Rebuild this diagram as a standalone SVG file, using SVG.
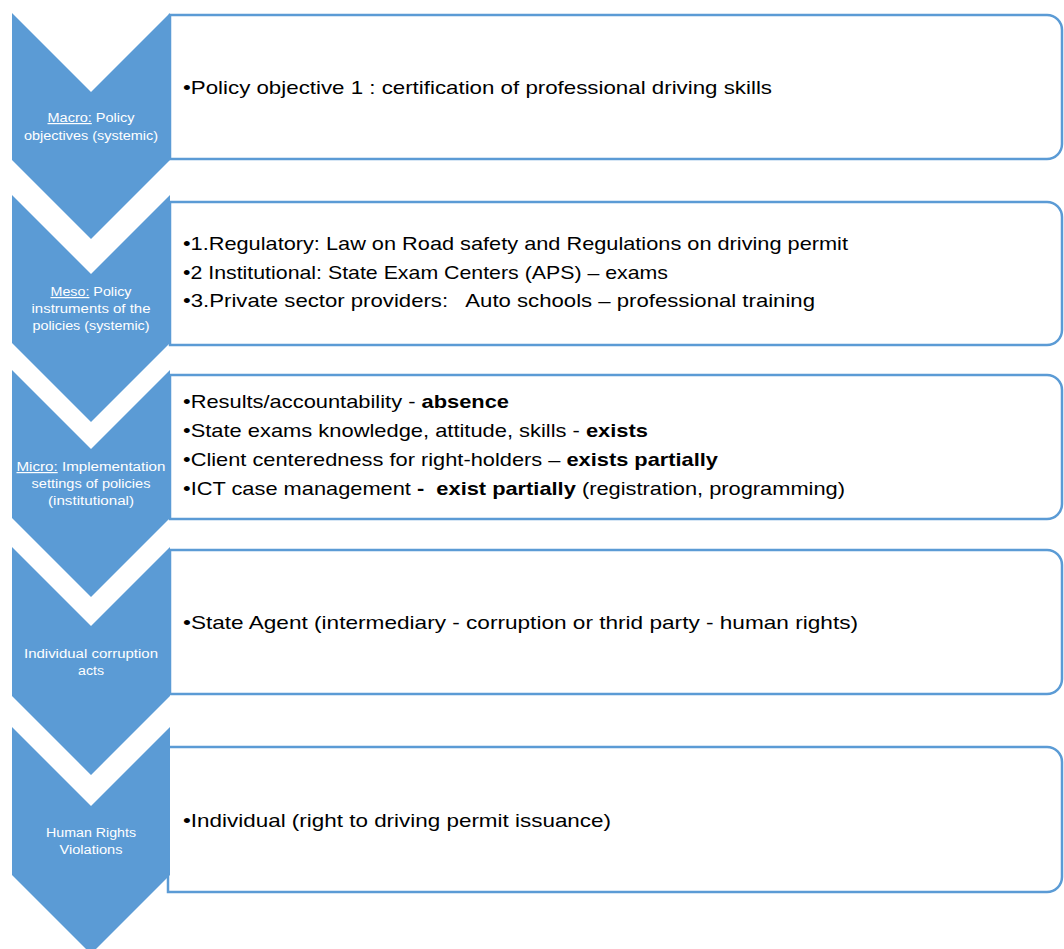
<svg xmlns="http://www.w3.org/2000/svg" width="1064" height="949" viewBox="0 0 1064 949">
<style>
.box{fill:#fff;stroke:#5B9BD5;stroke-width:2.5}
.chev{fill:#5B9BD5}
.ct{font-family:"Liberation Sans",Arial,sans-serif;font-size:12px;fill:#fff;text-anchor:middle}
.bt{font-family:"Liberation Sans",Arial,sans-serif;font-size:19px;fill:#000}
.b{font-weight:bold}
.u{text-decoration:underline}
</style>
<rect width="1064" height="949" fill="#fff"/>
<g id="boxes">
<g id="box1"><path class="box" d="M170,15 H1047 A15,15 0 0 1 1062,30 V144 A15,15 0 0 1 1047,159 H170 Z"/>
<text class="bt" x="183" y="94" textLength="589" lengthAdjust="spacingAndGlyphs">•Policy objective 1 : certification of professional driving skills</text></g>
<g id="box2"><path class="box" d="M170,202 H1047 A15,15 0 0 1 1062,217 V330 A15,15 0 0 1 1047,345 H170 Z"/>
<text class="bt" x="183" y="250" textLength="665" lengthAdjust="spacingAndGlyphs">•1.Regulatory: Law on Road safety and Regulations on driving permit</text>
<text class="bt" x="183" y="279" textLength="485" lengthAdjust="spacingAndGlyphs">•2 Institutional: State Exam Centers (APS) – exams</text>
<text class="bt" x="183" y="307" textLength="632" lengthAdjust="spacingAndGlyphs" xml:space="preserve">•3.Private sector providers:   Auto schools – professional training</text></g>
<g id="box3"><path class="box" d="M170,375 H1047 A15,15 0 0 1 1062,390 V504 A15,15 0 0 1 1047,519 H170 Z"/>
<text class="bt" x="183" y="408" textLength="326" lengthAdjust="spacingAndGlyphs">•Results/accountability - <tspan class="b">absence</tspan></text>
<text class="bt" x="183" y="437" textLength="465" lengthAdjust="spacingAndGlyphs">•State exams knowledge, attitude, skills - <tspan class="b">exists</tspan></text>
<text class="bt" x="183" y="466" textLength="535" lengthAdjust="spacingAndGlyphs">•Client centeredness for right-holders – <tspan class="b">exists partially</tspan></text>
<text class="bt" x="183" y="495" textLength="662" lengthAdjust="spacingAndGlyphs" xml:space="preserve">•ICT case management <tspan class="b">-  exist partially</tspan> (registration, programming)</text></g>
<g id="box4"><path class="box" d="M170,550 H1047 A15,15 0 0 1 1062,565 V679 A15,15 0 0 1 1047,694 H170 Z"/>
<text class="bt" x="183" y="629" textLength="675" lengthAdjust="spacingAndGlyphs">•State Agent (intermediary - corruption or thrid party - human rights)</text></g>
<g id="box5"><path class="box" d="M168,747 H1047 A15,15 0 0 1 1062,762 V877 A15,15 0 0 1 1047,892 H168 Z"/>
<text class="bt" x="183" y="827" textLength="428" lengthAdjust="spacingAndGlyphs">•Individual (right to driving permit issuance)</text></g>
</g>
<g id="chevrons">
<g id="chev1"><path class="chev" d="M12,13 L91,92 L170,13 L170,160 L91,239 L12,160 Z"/>
<text class="ct" x="91" y="122" textLength="87" lengthAdjust="spacingAndGlyphs"><tspan class="u">Macro:</tspan> Policy</text>
<text class="ct" x="91" y="140" textLength="134" lengthAdjust="spacingAndGlyphs">objectives (systemic)</text></g>
<g id="chev2"><path class="chev" d="M12,195 L91,274 L170,195 L170,343 L91,422 L12,343 Z"/>
<text class="ct" x="91" y="296" textLength="81" lengthAdjust="spacingAndGlyphs"><tspan class="u">Meso:</tspan> Policy</text>
<text class="ct" x="91" y="313" textLength="119" lengthAdjust="spacingAndGlyphs">instruments of the</text>
<text class="ct" x="91" y="330" textLength="117" lengthAdjust="spacingAndGlyphs">policies (systemic)</text></g>
<g id="chev3"><path class="chev" d="M12,370 L91,449 L170,370 L170,518 L91,597 L12,518 Z"/>
<text class="ct" x="91" y="471" textLength="149" lengthAdjust="spacingAndGlyphs"><tspan class="u">Micro:</tspan> Implementation</text>
<text class="ct" x="91" y="488" textLength="119" lengthAdjust="spacingAndGlyphs">settings of policies</text>
<text class="ct" x="91" y="505" textLength="86" lengthAdjust="spacingAndGlyphs">(institutional)</text></g>
<g id="chev4"><path class="chev" d="M12,547 L91,626 L170,547 L170,696 L91,775 L12,696 Z"/>
<text class="ct" x="91" y="658" textLength="134" lengthAdjust="spacingAndGlyphs">Individual corruption</text>
<text class="ct" x="91" y="675" textLength="26" lengthAdjust="spacingAndGlyphs">acts</text></g>
<g id="chev5"><path class="chev" d="M12,727 L91,806 L170,727 L170,875 L91,954 L12,875 Z"/>
<text class="ct" x="91" y="837" textLength="90" lengthAdjust="spacingAndGlyphs">Human Rights</text>
<text class="ct" x="91" y="854" textLength="63" lengthAdjust="spacingAndGlyphs">Violations</text></g>
</g>
<g id="connectors"/>
</svg>
